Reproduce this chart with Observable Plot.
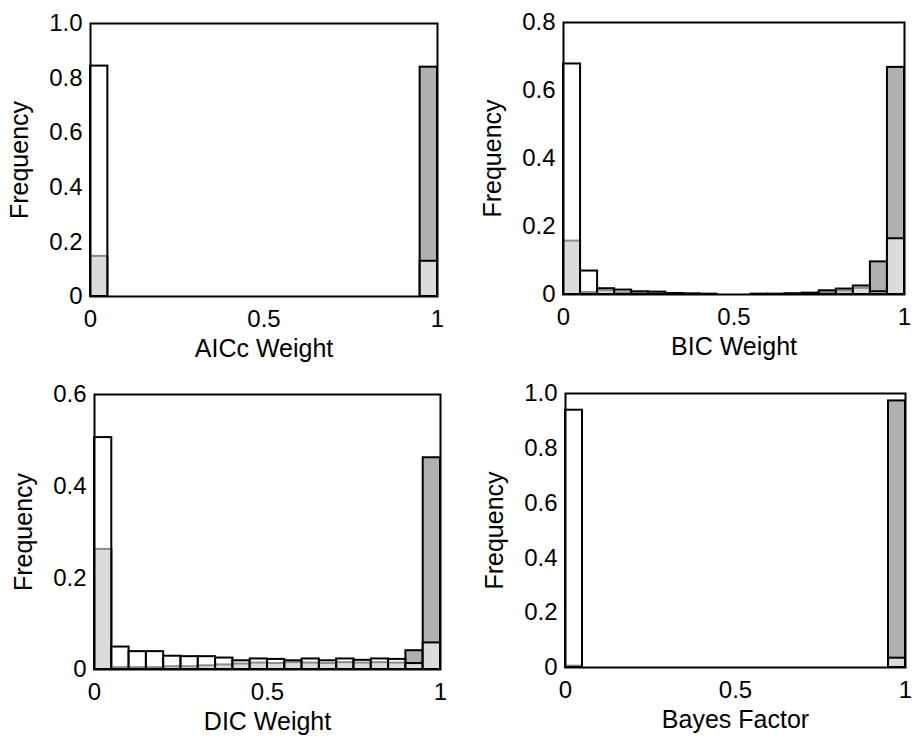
<!DOCTYPE html>
<html>
<head>
<meta charset="utf-8">
<script src="https://cdn.jsdelivr.net/npm/d3@7"></script>
<script src="https://cdn.jsdelivr.net/npm/@observablehq/plot@0.6"></script>
<style>
  html, body { margin: 0; padding: 0; background: #fff; }
  #page { position: relative; width: 912px; height: 739px; overflow: hidden; background: #fff; }
  .panel { position: absolute; }
  .panel svg { overflow: visible; }
</style>
</head>
<body>
<div id="page"></div>
<script>
// Bin left edges (20 bins, width 0.05)
const binStarts = [0, 0.05, 0.1, 0.15, 0.2, 0.25, 0.3, 0.35, 0.4, 0.45, 0.5, 0.55, 0.6, 0.65, 0.7, 0.75, 0.8, 0.85, 0.9, 0.95];
const binWidth = 0.05;

// AICc weight histograms (white = series A, gray = series B)
const aiccWhite = [0.844, 0, 0, 0, 0, 0, 0, 0, 0, 0, 0, 0, 0, 0, 0, 0, 0, 0, 0, 0.129];
const aiccGray  = [0.147, 0, 0, 0, 0, 0, 0, 0, 0, 0, 0, 0, 0, 0, 0, 0, 0, 0, 0, 0.840];

// BIC weight
const bicWhite = [0.678, 0.069, 0.017, 0.013, 0.008, 0.007, 0.003, 0.002, 0.001, 0, 0, 0.001, 0.001, 0.002, 0.004, 0.011, 0.016, 0.025, 0.008, 0.164];
const bicGray  = [0.157, 0.006, 0.011, 0.005, 0.003, 0.002, 0.001, 0, 0, 0, 0, 0, 0, 0.001, 0.002, 0.006, 0.010, 0.018, 0.096, 0.668];

// DIC weight
const dicWhite = [0.506, 0.049, 0.039, 0.039, 0.029, 0.028, 0.028, 0.025, 0.019, 0.023, 0.022, 0.019, 0.023, 0.019, 0.023, 0.020, 0.023, 0.022, 0.013, 0.058];
const dicGray  = [0.262, 0.004, 0.004, 0.004, 0.006, 0.006, 0.008, 0.010, 0.012, 0.014, 0.013, 0.015, 0.014, 0.013, 0.015, 0.014, 0.015, 0.014, 0.041, 0.462];

// Bayes factor
const bfWhite = [0.939, 0, 0, 0, 0, 0, 0, 0, 0, 0, 0, 0, 0, 0, 0, 0, 0, 0, 0, 0.034];
const bfGray  = [0.005, 0, 0, 0, 0, 0, 0, 0, 0, 0, 0, 0, 0, 0, 0, 0, 0, 0, 0, 0.973];

// Tick values
const xTicks = [0, 0.5, 1];
const yTicks10 = [0, 0.2, 0.4, 0.6, 0.8, 1.0];
const yTicks08 = [0, 0.2, 0.4, 0.6, 0.8];
const yTicks06 = [0, 0.2, 0.4, 0.6];

// Axis labels
const xLabels = ["AICc Weight", "BIC Weight", "DIC Weight", "Bayes Factor"];
const yLabel = "Frequency";

function table(values) {
  return binStarts.map((b, i) => ({x1: b, x2: b + binWidth, y: values[i]}));
}

const panels = [
  {left: 0,   top: 0,   w: 456, h: 370, m: [23, 19, 74, 90],  ymax: 1.0, yt: yTicks10, white: aiccWhite, gray: aiccGray, label: xLabels[0]},
  {left: 456, top: 0,   w: 456, h: 370, m: [22, 8, 76, 107],  ymax: 0.8, yt: yTicks08, white: bicWhite,  gray: bicGray,  label: xLabels[1]},
  {left: 0,   top: 370, w: 456, h: 369, m: [24, 16, 70, 94],  ymax: 0.6, yt: yTicks06, white: dicWhite,  gray: dicGray,  label: xLabels[2]},
  {left: 456, top: 370, w: 456, h: 369, m: [23, 7, 72, 109],  ymax: 1.0, yt: yTicks10, white: bfWhite,   gray: bfGray,   label: xLabels[3]}
];

const page = document.getElementById("page");
const fmtY = d => d === 0 ? "0" : d.toFixed(1);
const fmtX = d => d === 0 ? "0" : d === 1 ? "1" : String(d);

for (const p of panels) {
  const chart = Plot.plot({
    width: p.w,
    height: p.h,
    marginTop: p.m[0],
    marginRight: p.m[1],
    marginBottom: p.m[2],
    marginLeft: p.m[3],
    style: {fontFamily: "'Liberation Sans', Arial, sans-serif", fontSize: "23px", color: "#000", background: "transparent", overflow: "visible"},
    x: {domain: [0, 1]},
    y: {domain: [0, p.ymax]},
    marks: [
      Plot.rectY(table(p.gray), {x1: "x1", x2: "x2", y: "y", fill: "#b0b0b0", stroke: "#000", strokeWidth: 2}),
      Plot.rectY(table(p.white), {x1: "x1", x2: "x2", y: "y", fill: "#fff", fillOpacity: 0.55, stroke: "#000", strokeWidth: 2}),
      Plot.frame({stroke: "#000", strokeWidth: 2}),
      Plot.axisX({ticks: xTicks, tickFormat: fmtX, tickSize: 0, tickPadding: 13, fontSize: 24, label: null}),
      Plot.axisX({ticks: [], tickSize: 0, fontSize: 25, label: p.label, labelAnchor: "center", labelArrow: "none", labelOffset: 60}),
      Plot.axisY({ticks: p.yt, tickFormat: fmtY, tickSize: 0, tickPadding: 8, fontSize: 24, label: null}),
      Plot.axisY({ticks: [], tickSize: 0, fontSize: 25, label: yLabel, labelAnchor: "center", labelArrow: "none", labelOffset: 80})
    ]
  });
  const div = document.createElement("div");
  div.className = "panel";
  div.style.left = p.left + "px";
  div.style.top = p.top + "px";
  div.appendChild(chart);
  page.appendChild(div);
}
</script>
</body>
</html>
